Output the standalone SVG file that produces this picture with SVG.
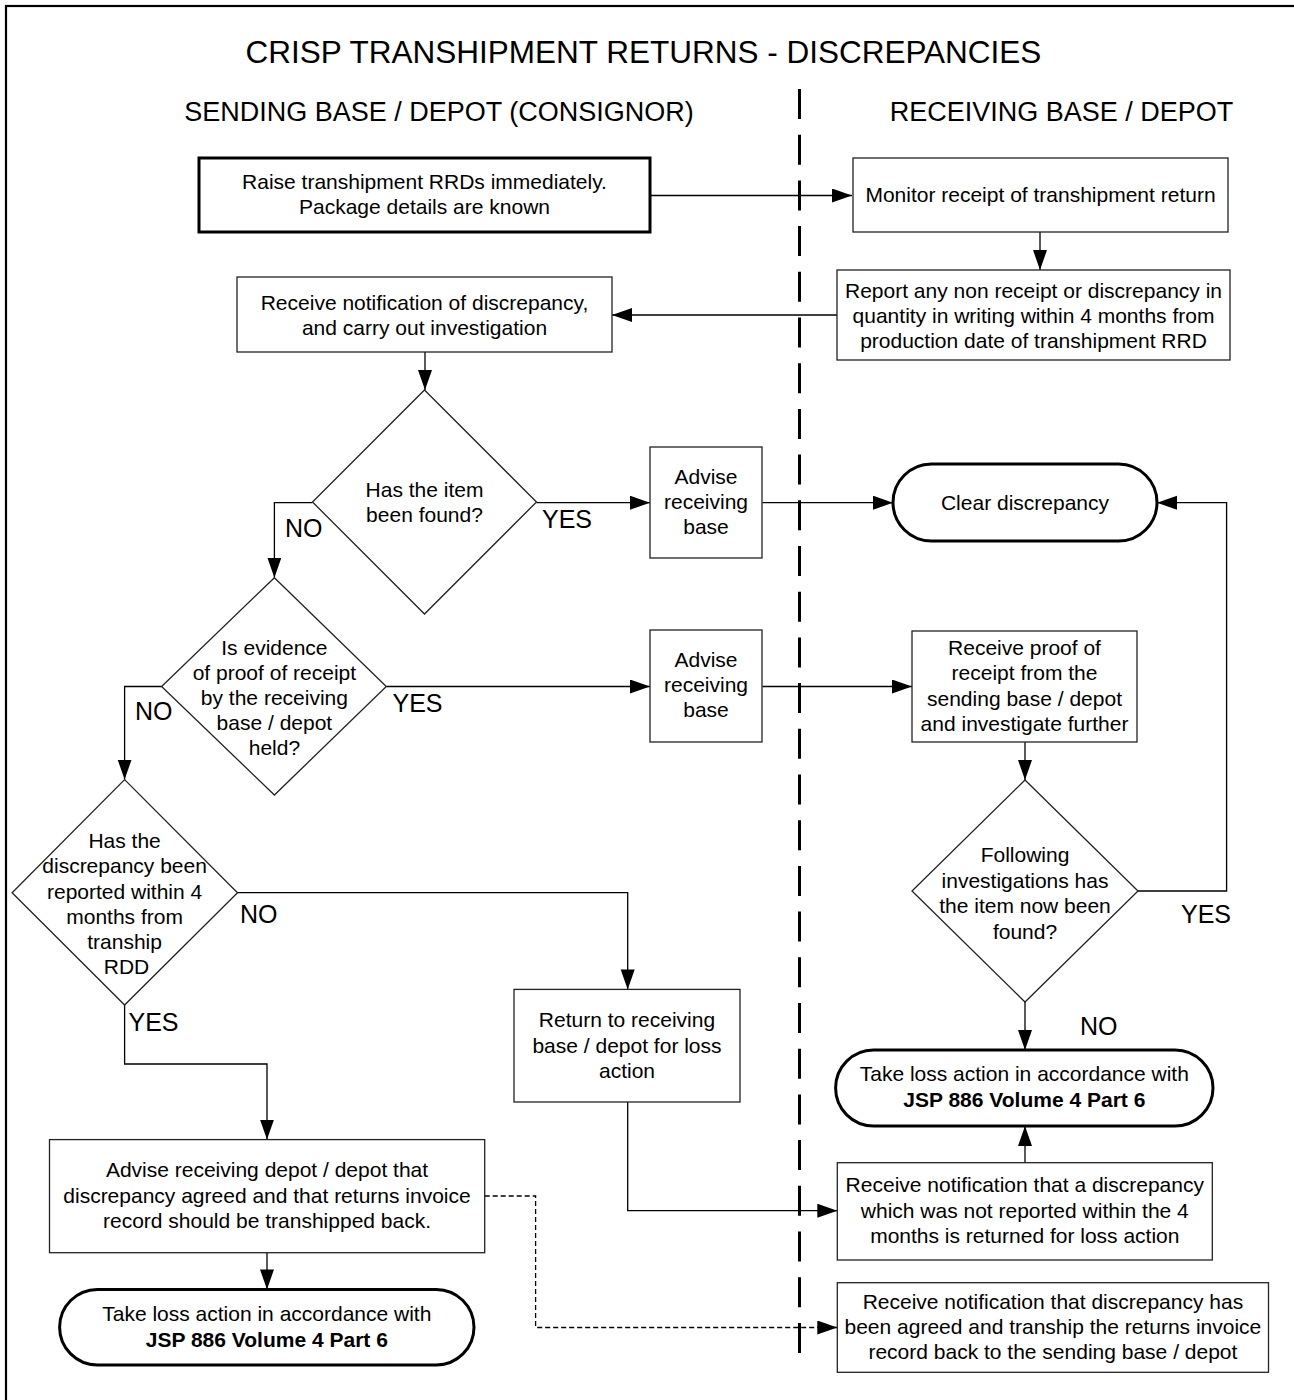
<svg xmlns="http://www.w3.org/2000/svg" width="1294" height="1400" viewBox="0 0 1294 1400">
<style>
text{font-family:"Liberation Sans",Arial,sans-serif;fill:#000}
.t{font-size:21px;text-anchor:middle}
.b{font-weight:bold}
.lbl{font-size:25px}
.title{font-size:31.5px;text-anchor:middle}
.hdr{font-size:27px;text-anchor:middle}
.box{fill:#fff;stroke:#222;stroke-width:1.3}
.thick{fill:#fff;stroke:#000;stroke-width:3}
.ln{fill:none;stroke:#000;stroke-width:1.3;marker-end:url(#ah)}
.dash{stroke-dasharray:5 3}
</style>
<defs>
<marker id="ah" markerUnits="userSpaceOnUse" markerWidth="22" markerHeight="16" refX="20" refY="7" orient="auto">
<path d="M0,0 L20,7 L0,14 Z" fill="#000"/>
</marker>
</defs>
<rect x="0" y="0" width="1294" height="1400" fill="#fff"/>
<rect x="6" y="6" width="1320" height="1420" fill="none" stroke="#000" stroke-width="2.2"/>
<g id="headers">
<text class="title" x="643.5" y="63">CRISP TRANSHIPMENT RETURNS - DISCREPANCIES</text>
<text class="hdr" x="439" y="121">SENDING BASE / DEPOT (CONSIGNOR)</text>
<text class="hdr" x="1061.5" y="121">RECEIVING BASE / DEPOT</text>
</g>
<line id="separator" x1="799.5" y1="89" x2="799.5" y2="1353" stroke="#000" stroke-width="3" stroke-dasharray="30 15.7"/>
<g id="connectors">
<path class="ln" d="M650,195.5 H852"/>
<path class="ln" d="M1040,232 V270"/>
<path class="ln" d="M837,315 H612"/>
<path class="ln" d="M425,352 V390"/>
<path class="ln" d="M312.5,502.7 H274.4 V577.7"/>
<path class="ln" d="M536.5,502.7 H650"/>
<path class="ln" d="M762.4,502.7 H893"/>
<path class="ln" d="M386.3,686.5 H650"/>
<path class="ln" d="M762.4,686.5 H912"/>
<path class="ln" d="M1025,742.3 V780"/>
<path class="ln" d="M161.6,686.5 H124.6 V779.6"/>
<path class="ln" d="M1138,891 H1226.6 V502.7 H1157"/>
<path class="ln" d="M1025,1002 V1050"/>
<path class="ln" d="M237.5,892.7 H627.7 V989.4"/>
<path class="ln" d="M124.6,1005 V1064 H267 V1139.6"/>
<path class="ln" d="M627.7,1102 V1210.7 H837.3"/>
<path class="ln" d="M1025,1162.7 V1126"/>
<path class="ln" d="M267,1252.7 V1289.4"/>
<path class="ln dash" d="M484.7,1196 H535.6 V1327.5 H837.3"/>
<text class="lbl" x="285" y="537">NO</text>
<text class="lbl" x="542" y="528">YES</text>
<text class="lbl" x="135" y="720">NO</text>
<text class="lbl" x="392.5" y="712">YES</text>
<text class="lbl" x="240" y="922.5">NO</text>
<text class="lbl" x="128.5" y="1031">YES</text>
<text class="lbl" x="1080" y="1035">NO</text>
<text class="lbl" x="1181" y="923">YES</text>
</g>
<g id="n_raise">
<rect class="thick" x="199" y="158" width="451" height="74"/>
<text class="t" x="424.5" y="189">Raise transhipment RRDs immediately.</text>
<text class="t" x="424.5" y="214">Package details are known</text>
</g>
<g id="n_monitor">
<rect class="box" x="853" y="158" width="375" height="74"/>
<text class="t" x="1040.5" y="202">Monitor receipt of transhipment return</text>
</g>
<g id="n_report">
<rect class="box" x="837" y="270" width="393" height="90"/>
<text class="t" x="1033.5" y="298">Report any non receipt or discrepancy in</text>
<text class="t" x="1033.5" y="323">quantity in writing within 4 months from</text>
<text class="t" x="1033.5" y="348">production date of transhipment RRD</text>
</g>
<g id="n_receive_notif">
<rect class="box" x="237" y="277" width="375" height="75"/>
<text class="t" x="424.5" y="309.5">Receive notification of discrepancy,</text>
<text class="t" x="424.5" y="334.5">and carry out investigation</text>
</g>
<g id="n_found">
<polygon class="box" points="424.5,390 536.5,502 424.5,614 312.5,502"/>
<text class="t" x="424.5" y="497">Has the item</text>
<text class="t" x="424.5" y="522">been found?</text>
</g>
<g id="n_advise1">
<rect class="box" x="650" y="447" width="112" height="111"/>
<text class="t" x="706" y="484">Advise</text>
<text class="t" x="706" y="509">receiving</text>
<text class="t" x="706" y="534">base</text>
</g>
<g id="n_clear">
<rect class="thick" x="893" y="464" width="264" height="77" rx="38.5" ry="38.5"/>
<text class="t" x="1025" y="510">Clear discrepancy</text>
</g>
<g id="n_evidence">
<polygon class="box" points="274.4,577.7 386.3,686.5 274.4,795 161.6,686.5"/>
<text class="t" x="274.4" y="655">Is evidence</text>
<text class="t" x="274.4" y="680">of proof of receipt</text>
<text class="t" x="274.4" y="705">by the receiving</text>
<text class="t" x="274.4" y="730">base / depot</text>
<text class="t" x="274.4" y="755">held?</text>
</g>
<g id="n_advise2">
<rect class="box" x="650" y="630" width="112" height="112"/>
<text class="t" x="706" y="667">Advise</text>
<text class="t" x="706" y="692">receiving</text>
<text class="t" x="706" y="717">base</text>
</g>
<g id="n_receive_proof">
<rect class="box" x="912" y="631" width="225" height="111"/>
<text class="t" x="1024.5" y="655">Receive proof of</text>
<text class="t" x="1024.5" y="680">receipt from the</text>
<text class="t" x="1024.5" y="705.5">sending base / depot</text>
<text class="t" x="1024.5" y="730.5">and investigate further</text>
</g>
<g id="n_following">
<polygon class="box" points="1025,780 1138,891 1025,1002 912,891"/>
<text class="t" x="1025" y="862">Following</text>
<text class="t" x="1025" y="888">investigations has</text>
<text class="t" x="1025" y="913">the item now been</text>
<text class="t" x="1025" y="939">found?</text>
</g>
<g id="n_reported">
<polygon class="box" points="124.6,779.6 237.5,892.7 124.6,1005 12.1,892.7"/>
<text class="t" x="124.6" y="847.5">Has the</text>
<text class="t" x="124.6" y="873">discrepancy been</text>
<text class="t" x="124.6" y="898.5">reported within 4</text>
<text class="t" x="124.6" y="923.5">months from</text>
<text class="t" x="124.6" y="948.5">tranship</text>
<text class="t" x="126.5" y="974">RDD</text>
</g>
<g id="n_return">
<rect class="box" x="514" y="989.4" width="226" height="112.6"/>
<text class="t" x="627" y="1027">Return to receiving</text>
<text class="t" x="627" y="1052.5">base / depot for loss</text>
<text class="t" x="627" y="1078">action</text>
</g>
<g id="n_advise_depot">
<rect class="box" x="49.5" y="1139.6" width="435.2" height="113.1"/>
<text class="t" x="267" y="1177">Advise receiving depot / depot that</text>
<text class="t" x="267" y="1202.5">discrepancy agreed and that returns invoice</text>
<text class="t" x="267" y="1228">record should be transhipped back.</text>
</g>
<g id="n_loss_left">
<rect class="thick" x="59.6" y="1289.4" width="414.4" height="75.6" rx="37.8" ry="37.8"/>
<text class="t" x="266.8" y="1321">Take loss action in accordance with</text>
<text class="t b" x="266.8" y="1346.5">JSP 886 Volume 4 Part 6</text>
</g>
<g id="n_loss_right">
<rect class="thick" x="835.6" y="1050" width="377.4" height="76" rx="38" ry="38"/>
<text class="t" x="1024.3" y="1081">Take loss action in accordance with</text>
<text class="t b" x="1024.3" y="1107">JSP 886 Volume 4 Part 6</text>
</g>
<g id="n_notif_late">
<rect class="box" x="837.3" y="1162.7" width="375" height="97.3"/>
<text class="t" x="1024.8" y="1192">Receive notification that a discrepancy</text>
<text class="t" x="1024.8" y="1218">which was not reported within the 4</text>
<text class="t" x="1024.8" y="1243">months is returned for loss action</text>
</g>
<g id="n_notif_agreed">
<rect class="box" x="837.3" y="1282.7" width="431.2" height="89.6"/>
<text class="t" x="1052.9" y="1309">Receive notification that discrepancy has</text>
<text class="t" x="1052.9" y="1334">been agreed and tranship the returns invoice</text>
<text class="t" x="1052.9" y="1359">record back to the sending base / depot</text>
</g>
</svg>
